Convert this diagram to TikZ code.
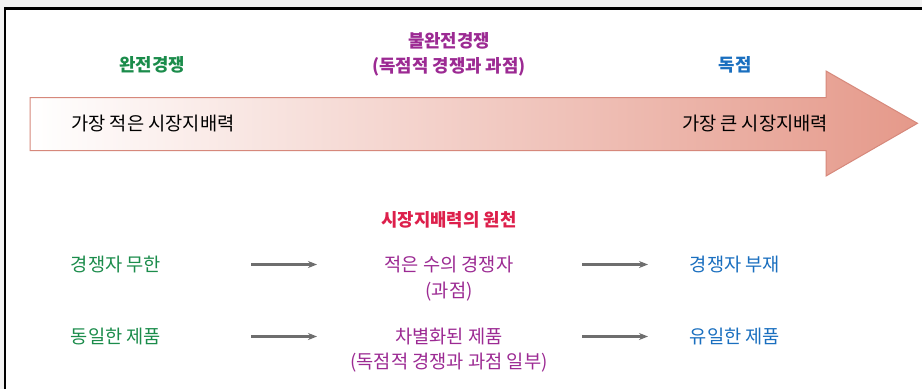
\documentclass[tikz,border=0pt]{standalone}
\usepackage{fontspec}
\setmainfont{Noto Sans CJK KR}
\usetikzlibrary{arrows.meta}
\definecolor{cgreen}{HTML}{1B8C4B}
\definecolor{cpurple}{HTML}{9C2A93}
\definecolor{cblue}{HTML}{1A6FBF}
\definecolor{cred}{HTML}{DD1F4B}
\definecolor{flowgray}{HTML}{6E6E6E}
\definecolor{bggray}{HTML}{F3F3F3}
\definecolor{arrowfill}{HTML}{E5998A}
\definecolor{arrowedge}{HTML}{D6887B}
\begin{document}
\begin{tikzpicture}[x=1pt,y=-1pt,
  txt/.style={font=\fontsize{18.7}{22}\selectfont, anchor=base, inner sep=0pt},
  ttl/.style={font=\fontsize{17.8}{21}\selectfont\bfseries, anchor=base, inner sep=0pt},
  flow/.style={draw=flowgray, line width=2.2pt, -{Stealth[length=9pt,width=7pt]}}]
\useasboundingbox (0,0) rectangle (922,389);
\fill[bggray] (0,0) rectangle (922,389);
\fill[white] (5,9) rectangle (922,389);
\draw[black, line width=2.5pt] (5,389) -- (5,8.7) -- (922,8.7);
% big arrow
\path[draw=arrowedge, line width=1pt, left color=white, right color=arrowfill]
  (30,97.5) -- (826,97.5) -- (826,71) -- (917.5,123.3) -- (826,176) -- (826,150.5) -- (30,150.5) -- cycle;
% headings
\node[ttl, text=cgreen] (perfect) at (152,71.8) {완전경쟁};
\node[ttl, text=cpurple] (imperf) at (449,47.8) {불완전경쟁};
\node[ttl, text=cpurple] (imperf2) at (449,72.5) {(독점적 경쟁과 과점)};
\node[ttl, text=cblue] (mono) at (735,71.8) {독점};
\node[txt, text=black] (least) at (153,130.3) {가장 적은 시장지배력};
\node[txt, text=black] (most) at (755,130.3) {가장 큰 시장지배력};
% sources
\node[ttl, text=cred] (src) at (449,226.8) {시장지배력의 원천};
\node[txt, text=cgreen] (r1a) at (116,271) {경쟁자 무한};
\node[txt, text=cpurple] (r1b) at (449,271) {적은 수의 경쟁자};
\node[txt, text=cpurple] (r1b2) at (449,297) {(과점)};
\node[txt, text=cblue] (r1c) at (735,271) {경쟁자 부재};
\node[txt, text=cgreen] (r2a) at (116,343.3) {동일한 제품};
\node[txt, text=cpurple] (r2b) at (449,343.3) {차별화된 제품};
\node[txt, text=cpurple] (r2b2) at (449,368) {(독점적 경쟁과 과점 일부)};
\node[txt, text=cblue] (r2c) at (735,343.3) {유일한 제품};
% connectors
\coordinate (a1s) at (251,264.5); \coordinate (a1e) at (317,264.5);
\coordinate (a2s) at (582,264.5); \coordinate (a2e) at (648,264.5);
\coordinate (a3s) at (251,336.5); \coordinate (a3e) at (317,336.5);
\coordinate (a4s) at (582,336.5); \coordinate (a4e) at (648,336.5);
\draw[flow] (a1s) -- (a1e);
\draw[flow] (a2s) -- (a2e);
\draw[flow] (a3s) -- (a3e);
\draw[flow] (a4s) -- (a4e);
\end{tikzpicture}
\end{document}
